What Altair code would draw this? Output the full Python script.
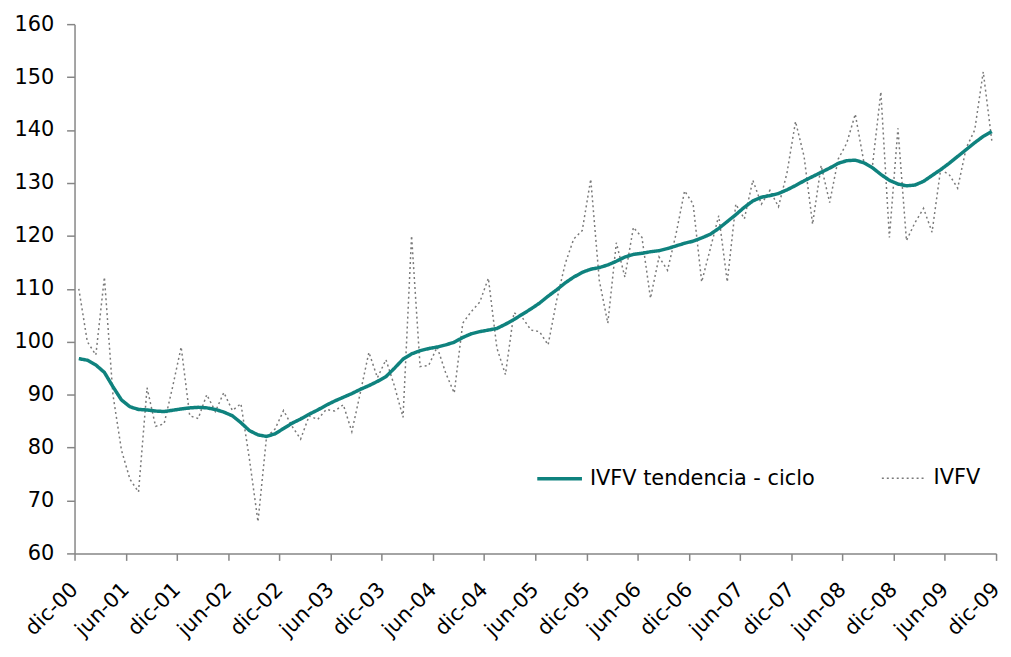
import altair as alt
import pandas as pd

x_labels = ["dic-00", "jun-01", "dic-01", "jun-02", "dic-02", "jun-03", "dic-03",
            "jun-04", "dic-04", "jun-05", "dic-05", "jun-06", "dic-06", "jun-07",
            "dic-07", "jun-08", "dic-08", "jun-09", "dic-09"]
y_ticks = [60, 70, 80, 90, 100, 110, 120, 130, 140, 150, 160]
series_names = ["IVFV tendencia - ciclo", "IVFV"]

ivfv = [110, 100, 97.5, 112.2, 90, 79.5, 74, 71.6, 91.3, 84, 84.5, 91.5,
        99, 86, 85.5, 90, 86.8, 90.4, 87, 88.3, 77.8, 66, 82, 83.5,
        87, 84, 81.6, 86, 85.3, 87.2, 86.9, 88.1, 83, 90.4, 98, 93.2,
        96.6, 91.6, 85.7, 120, 95.3, 95.5, 99, 94.1, 90.3, 103.5, 105.7, 107.5,
        112, 98.8, 93.8, 105.5, 104.5, 102.2, 101.9, 99.4, 107.8, 114.7, 119.4, 121,
        130.7, 111.6, 103.5, 118.7, 112.2, 121.6, 119.7, 108.2, 116, 113.5, 120.4, 128.5,
        126, 111.3, 117.5, 123.8, 111.3, 126, 123.2, 130.5, 126, 128.6, 125.5, 131.9,
        141.6, 135, 122.2, 133.3, 126.3, 134.5, 137.5, 143, 134, 133, 147.2, 119.7,
        140.3, 119.1, 122.5, 125.2, 120.7, 132.5, 131.6, 129, 136.6, 140, 151, 138]

tendencia = [96.8, 96.5, 95.6, 94.2, 91.5, 89.0, 87.7, 87.2, 87.1, 86.9, 86.8, 87.05,
             87.3, 87.5, 87.6, 87.5, 87.2, 86.7, 86.0, 84.7, 83.2, 82.4, 82.1, 82.6,
             83.6, 84.6, 85.4, 86.3, 87.1, 88.0, 88.8, 89.5, 90.2, 91.0, 91.7, 92.5,
             93.4, 95.0, 96.7, 97.7, 98.3, 98.7, 99.0, 99.4, 99.9, 100.8, 101.5, 101.9,
             102.2, 102.5, 103.3, 104.2, 105.2, 106.2, 107.3, 108.6, 109.8, 111.1, 112.2, 113.1,
             113.7, 114.0, 114.5, 115.2, 116.0, 116.5, 116.7, 117.0, 117.2, 117.6, 118.1, 118.6,
             119.0, 119.6, 120.3, 121.4, 122.7, 124.0, 125.4, 126.6, 127.3, 127.6, 128.0, 128.7,
             129.5, 130.4, 131.2, 132.0, 132.8, 133.7, 134.2, 134.3, 133.8, 132.9, 131.6, 130.5,
             129.8, 129.45, 129.6, 130.3, 131.4, 132.5, 133.7, 135.0, 136.3, 137.6, 138.8, 139.7]

n = len(ivfv)
mes = [i + 0.5 for i in range(n)]
df = pd.DataFrame({
    "mes": mes + mes,
    "valor": tendencia + ivfv,
    "serie": [series_names[0]] * n + [series_names[1]] * n,
})

FONT = "DejaVu Sans"
TEAL = "#0f827e"
GRAY = "#7a7a7a"
AXIS_GRAY = "#868686"

label_expr = "[" + ",".join("'%s'" % s for s in x_labels) + "][round(datum.value / 6)]"


def leg():
    return alt.Legend(title=None, orient="none", legendX=464, legendY=433,
                      direction="horizontal", labelFont=FONT, labelFontSize=21,
                      labelColor="#000000", symbolType="stroke", symbolSize=2025,
                      columnPadding=64, labelOffset=6, padding=0, labelLimit=400)


enc = dict(
    x=alt.X("mes:Q", scale=alt.Scale(domain=[0, 108], nice=False, zero=False),
            axis=alt.Axis(values=list(range(0, 109, 6)), labelExpr=label_expr,
                          labelAngle=315, labelAlign="right", labelBaseline="middle",
                          labelPadding=26, tickSize=7, title=None, labelOverlap=False,
                          labelFlush=False, labelBound=False, grid=False,
                          labelFont=FONT, labelFontSize=21, labelColor="#000000",
                          domainColor=AXIS_GRAY, tickColor=AXIS_GRAY,
                          domainWidth=1.5, tickWidth=1.5)),
    y=alt.Y("valor:Q", scale=alt.Scale(domain=[60, 160], nice=False, zero=False),
            axis=alt.Axis(values=y_ticks, tickSize=8, labelPadding=13, title=None,
                          grid=False, labelFont=FONT, labelFontSize=21,
                          labelColor="#000000", domainColor=AXIS_GRAY,
                          tickColor=AXIS_GRAY, domainWidth=1.5, tickWidth=1.5)),
    color=alt.Color("serie:N", scale=alt.Scale(domain=series_names, range=[TEAL, GRAY]),
                    legend=leg()),
    strokeDash=alt.StrokeDash("serie:N", scale=alt.Scale(domain=series_names,
                                                         range=[[1, 0], [2, 3]]),
                              legend=leg()),
    strokeWidth=alt.StrokeWidth("serie:N", scale=alt.Scale(domain=series_names,
                                                           range=[3.5, 1.5]),
                                legend=leg()),
)

base = alt.Chart(df)
dotted = base.transform_filter(alt.datum.serie == series_names[1]).mark_line().encode(**enc)
trend = base.transform_filter(alt.datum.serie == series_names[0]).mark_line().encode(**enc)

chart = alt.layer(dotted, trend).properties(
    width=928, height=533,
    background="white",
    autosize=alt.AutoSizeParams(type="none"),
    padding={"left": 67, "top": 14, "right": 7, "bottom": 94},
).configure_view(stroke=None).configure_axis(grid=False)

chart.save("out.html", embed_options={"renderer": "svg", "actions": False})
